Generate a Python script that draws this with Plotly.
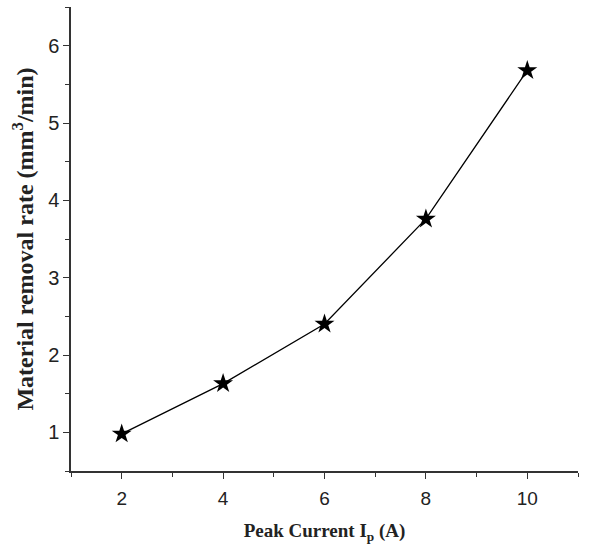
import plotly.graph_objects as go

peak_current = [2, 4, 6, 8, 10]
mrr = [0.98, 1.63, 2.40, 3.76, 5.68]
x_ticks = [2, 4, 6, 8, 10]
y_ticks = [1, 2, 3, 4, 5, 6]

fig = go.Figure()
fig.add_trace(go.Scatter(
    x=peak_current, y=mrr, mode="lines+markers",
    line=dict(color="black", width=1.3),
    marker=dict(symbol="star", size=15, color="black"),
    showlegend=False,
))

axis_common = dict(
    showgrid=False, zeroline=False, showline=True, linecolor="#333", linewidth=1.5,
    ticks="outside", ticklen=6, tickwidth=1.3, tickcolor="#333",
    minor=dict(ticks="outside", ticklen=4, tickwidth=1.2, tickcolor="#333"),
)

fig.update_xaxes(
    range=[1, 11], tickvals=x_ticks, minor_dtick=1, ticklabelstandoff=3,
    tickfont=dict(family="Liberation Sans, Arial", size=19, color="#222"),
    title=dict(text="Peak Current I<sub>p</sub> (A)", standoff=16,
               font=dict(family="Liberation Serif, Times New Roman", size=19, color="#222", weight="bold")),
    **axis_common,
)
fig.update_yaxes(
    range=[0.5, 6.5], tickvals=y_ticks, minor_dtick=0.5,
    tickfont=dict(family="Liberation Sans, Arial", size=20, color="#222"),
    title=dict(text="Material removal rate (mm<sup>3</sup>/min)", standoff=8,
               font=dict(family="Liberation Serif, Times New Roman", size=24, color="#222", weight="bold")),
    **axis_common,
)

fig.update_layout(
    width=599, height=550,
    margin=dict(l=71, r=21, t=7, b=79),
    plot_bgcolor="white", paper_bgcolor="white",
)

fig.write_html("out.html", config={"displayModeBar": False},
               post_script="document.body.style.margin='0';")
